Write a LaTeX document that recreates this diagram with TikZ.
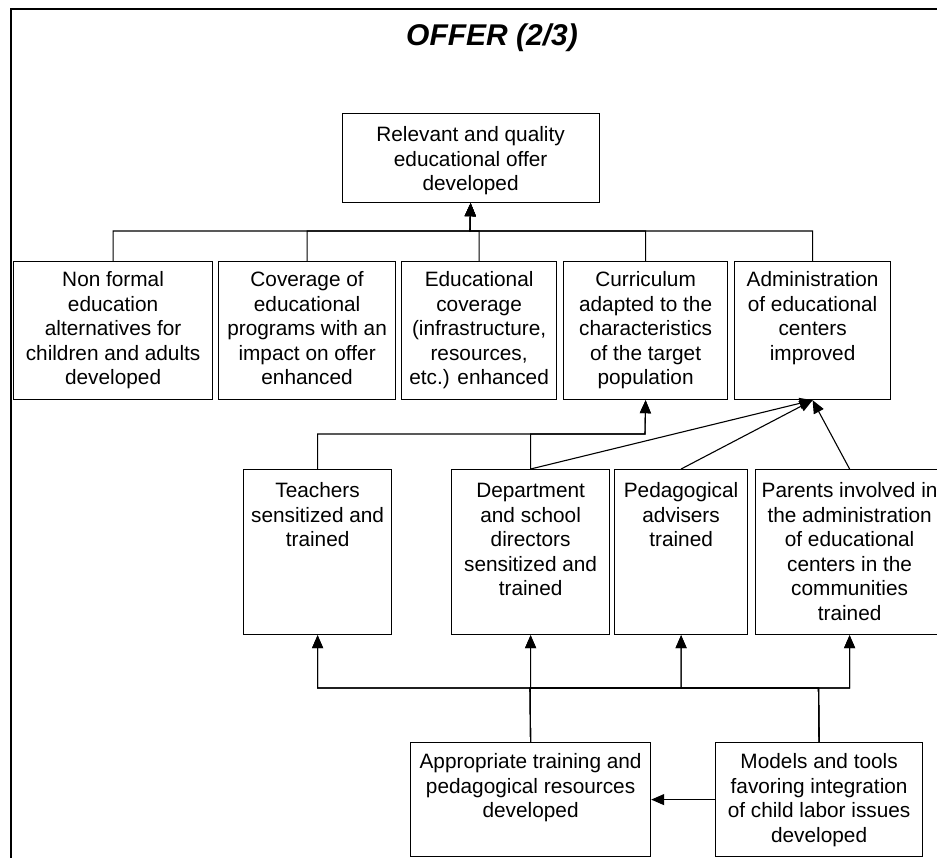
\documentclass[tikz,border=0pt]{standalone}
\usepackage{fontspec}
\setmainfont{Liberation Sans}
\usetikzlibrary{arrows.meta}
\newcommand{\bxt}[4]{\parbox[t][#2][t]{#1}{\centering\rule{0pt}{#3}#4}}
\begin{document}
\begin{tikzpicture}[x=1pt,y=-1pt,
  bx/.style={draw, line width=1.2pt, inner sep=0pt, anchor=north west, font=\fontsize{20.8}{24.5}\selectfont},
  arr/.style={line width=1.1pt, -{Triangle[length=13pt,width=11pt]}}]
\clip (0,0) rectangle (937,857);
\fill[white] (0,0) rectangle (937,857);
% frame
\draw[line width=2pt] (11,870) -- (11,9) -- (950,9);
% title
\node[font=\fontsize{30}{36}\selectfont\bfseries\itshape, anchor=base] (title) at (492,45) {OFFER (2/3)};
% top box
\node[bx] (top) at (341.5,113) {\bxt{257pt}{89pt}{28pt}{Relevant and quality\\educational offer\\developed}};
% row 2
\node[bx] (b1) at (13,261) {\bxt{199pt}{138pt}{25pt}{Non formal\\education\\alternatives for\\children and adults\\developed}};
\node[bx] (b2) at (218,261) {\bxt{177pt}{138pt}{25pt}{Coverage of\\educational\\programs with an\\impact on offer\\enhanced}};
\node[bx] (b3) at (401,261) {\bxt{155pt}{138pt}{25pt}{Educational\\coverage\\(infrastructure,\\resources,\\etc.) enhanced}};
\node[bx] (b4) at (563,261) {\bxt{164pt}{138pt}{25pt}{Curriculum\\adapted to the\\characteristics\\of the target\\population}};
\node[bx] (b5) at (734,261) {\bxt{156pt}{138pt}{25pt}{Administration\\of educational\\centers\\improved}};
% row 3
\node[bx] (t1) at (243,469) {\bxt{148pt}{165pt}{28pt}{Teachers\\sensitized and\\trained}};
\node[bx] (t2) at (451,469) {\bxt{158pt}{165pt}{28pt}{Department\\and school\\directors\\sensitized and\\trained}};
\node[bx] (t3) at (614,469) {\bxt{133pt}{165pt}{28pt}{Pedagogical\\advisers\\trained}};
\node[bx] (t4) at (755,469) {\bxt{188pt}{165pt}{28pt}{Parents involved in\\the administration\\of educational\\centers in the\\communities\\trained}};
% row 4
\node[bx] (a) at (410,742) {\bxt{240pt}{114pt}{26pt}{Appropriate training and\\pedagogical resources\\developed}};
\node[bx] (m) at (715,742) {\bxt{207pt}{114pt}{26pt}{Models and tools\\favoring integration\\of child labor issues\\developed}};
% connectors
\coordinate (bus) at (470,231);
\foreach \b in {b1,b2,b3,b4,b5} \draw[arr] (\b.north) |- (bus) -- (top.south);
\coordinate (cj) at (645,434);
\draw[arr] (t1.north) |- (cj) -- (b4.south);
\draw[arr] (t2.north) |- (cj) -- (b4.south);
\draw[arr] (t2.north) -- (b5.south);
\draw[arr] (t3.north) -- (b5.south);
\draw[arr] (t4.north) -- (b5.south);
\coordinate (ba) at (530,688);
\coordinate (bm) at (818.5,688);
\draw[arr] (a.north) -- (t2.south);
\foreach \t in {t1,t3,t4} \draw[arr] (a.north) -- (ba) -| (\t.south);
\foreach \t in {t1,t2,t3,t4} \draw[arr] (m.north) -- (bm) -| (\t.south);
\draw[arr] (m.west) -- (a.east);
\end{tikzpicture}
\end{document}
